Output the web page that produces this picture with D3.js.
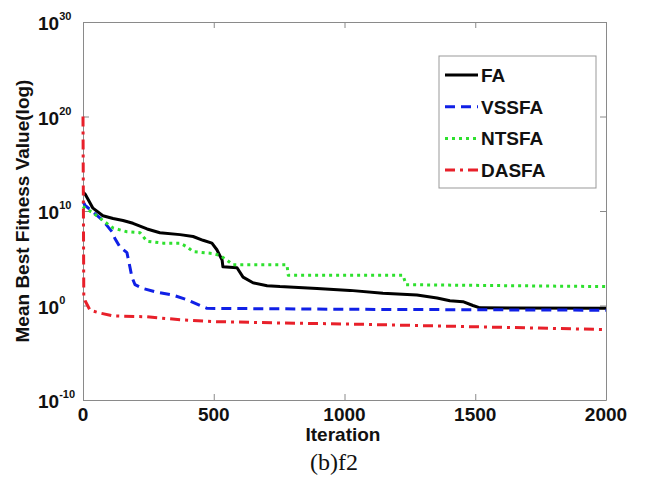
<!DOCTYPE html>
<html>
<head>
<meta charset="utf-8">
<script src="https://cdn.jsdelivr.net/npm/d3@7"></script>
<style>
  body { margin: 0; background: #fff; }
  text { font-family: Arial, "Liberation Sans", sans-serif; font-weight: bold; fill: #111; }
</style>
</head>
<body>
<svg id="chart" width="646" height="481"></svg>
<script>
// [iteration, log10(mean best fitness)]
var faData    = [[0,12.0],[8,11.8],[38,10.3],[76,9.5],[115,9.2],[153,9.0],[191,8.7],[245,8.1],
                 [294,7.7],[371,7.5],[421,7.3],[459,6.9],[493,6.6],[512,5.9],[532,4.8],[535,4.1],
                 [589,4.0],[612,3.0],[650,2.4],[704,2.1],[753,2.0],[895,1.8],[1021,1.6],[1147,1.3],
                 [1277,1.1],[1354,0.8],[1403,0.5],[1453,0.4],[1491,0.0],[1518,-0.25],[2000,-0.3]];
var vssfaData = [[0,11.0],[8,10.6],[38,9.9],[76,9.0],[111,7.8],[122,7.1],[141,6.2],[168,5.6],
                 [180,4.0],[187,3.0],[199,2.2],[229,1.8],[283,1.4],[344,1.1],[398,0.6],[447,0.0],
                 [474,-0.3],[1000,-0.4],[2000,-0.5]];
var ntsfaData = [[0,10.5],[8,10.3],[38,9.8],[76,9.0],[115,8.2],[168,7.8],[218,7.7],[245,6.8],
                 [306,6.6],[371,6.6],[398,6.2],[421,5.7],[497,5.5],[524,5.3],[550,4.8],[574,4.3],
                 [780,4.3],[785,3.2],[1224,3.2],[1235,2.2],[2000,2.0]];
var dasfaData = [[0,20],[3,1.0],[8,0.5],[27,-0.5],[65,-0.8],[115,-1.1],[245,-1.2],[371,-1.5],
                 [497,-1.7],[753,-1.85],[1000,-1.95],[1500,-2.25],[2000,-2.55]];

var seriesNames = ["FA", "VSSFA", "NTSFA", "DASFA"];
var xTicks = [0, 500, 1000, 1500, 2000];
var yTickExps = [30, 20, 10, 0, -10];

window.addEventListener( "load", makeChart );
function makeChart() {
    var svg = d3.select( "#chart" );
    var L = 83, R = 606, T = 22, B = 400;

    var scX = d3.scaleLinear().domain([0, 2000]).range([L, R]),
        scY = d3.scaleLog().domain([1e-10, 1e30]).range([B, T]);

    var series = [
        { name: seriesNames[0], data: faData,    color: "#000",    dash: null },
        { name: seriesNames[1], data: vssfaData, color: "#1020e6", dash: "10,6" },
        { name: seriesNames[2], data: ntsfaData, color: "#2ee02e", dash: "3,4" },
        { name: seriesNames[3], data: dasfaData, color: "#e8202a", dash: "10,5,3,5" }
    ];

    svg.append( "rect" ).attr( "width", 646 ).attr( "height", 481 ).attr( "fill", "#fff" );

    // axes box, ticks point inward on all four sides
    var ax = svg.append( "g" ).attr( "stroke", "#8a8a8a" ).attr( "fill", "none" );
    ax.append( "g" ).attr( "transform", "translate(0," + B + ")" )
        .call( d3.axisBottom(scX).tickValues(xTicks).tickSizeInner(-6).tickSizeOuter(0).tickFormat("") );
    ax.append( "g" ).attr( "transform", "translate(0," + T + ")" )
        .call( d3.axisTop(scX).tickValues(xTicks).tickSizeInner(-6).tickSizeOuter(0).tickFormat("") );
    ax.append( "g" ).attr( "transform", "translate(" + L + ",0)" )
        .call( d3.axisLeft(scY).tickValues(yTickExps.map(e=>Math.pow(10, e))).tickSizeInner(-6).tickSizeOuter(0).tickFormat("") );
    ax.append( "g" ).attr( "transform", "translate(" + R + ",0)" )
        .call( d3.axisRight(scY).tickValues(yTickExps.map(e=>Math.pow(10, e))).tickSizeInner(-6).tickSizeOuter(0).tickFormat("") );
    ax.selectAll( "path, line" ).attr( "stroke", "#8a8a8a" );

    // curves
    var line = d3.line().x( d=>scX(d[0]) ).y( d=>scY(Math.pow(10, d[1])) );
    svg.selectAll( "path.curve" ).data( series ).enter().append( "path" )
        .attr( "class", "curve" )
        .attr( "d", d=>line(d.data) )
        .attr( "fill", "none" ).attr( "stroke", d=>d.color )
        .attr( "stroke-width", 3 ).attr( "stroke-dasharray", d=>d.dash )
        .attr( "stroke-linejoin", "round" );

    // tick labels
    svg.selectAll( "text.xt" ).data( xTicks ).enter().append( "text" )
        .attr( "class", "xt" ).attr( "x", d=>scX(d) ).attr( "y", 421 )
        .attr( "text-anchor", "middle" ).attr( "font-size", 19 ).text( d=>d );

    var yt = svg.selectAll( "text.yt" ).data( yTickExps ).enter().append( "text" )
        .attr( "class", "yt" ).attr( "x", 38 ).attr( "y", d=>scY(Math.pow(10, d)) + 8 )
        .attr( "font-size", 19 );
    yt.append( "tspan" ).text( "10" );
    yt.append( "tspan" ).attr( "dy", -10 ).attr( "font-size", 11 ).text( d=>d );

    // axis titles
    svg.append( "text" ).attr( "x", 343 ).attr( "y", 441 ).attr( "text-anchor", "middle" )
        .attr( "font-size", 19 ).text( "Iteration" );
    svg.append( "text" ).attr( "transform", "translate(29," + (T + B) / 2 + ") rotate(-90)" )
        .attr( "text-anchor", "middle" ).attr( "font-size", 19 ).text( "Mean Best Fitness Value(log)" );
    svg.append( "text" ).attr( "x", 334 ).attr( "y", 470 ).attr( "text-anchor", "middle" )
        .attr( "font-size", 24 ).style( "font-family", "'Liberation Serif', 'Times New Roman', serif" )
        .style( "font-weight", "normal" ).text( "(b)f2" );

    // legend
    var lg = svg.append( "g" );
    lg.append( "rect" ).attr( "x", 439 ).attr( "y", 56 ).attr( "width", 157 ).attr( "height", 132 )
        .attr( "fill", "#fff" ).attr( "stroke", "#999" );
    var items = lg.selectAll( "g.item" ).data( series ).enter().append( "g" )
        .attr( "class", "item" ).attr( "transform", (d, i)=>"translate(0," + (75 + i * 31.7) + ")" );
    items.append( "line" ).attr( "x1", 445 ).attr( "x2", 478 )
        .attr( "stroke", d=>d.color ).attr( "stroke-width", 3 ).attr( "stroke-dasharray", d=>d.dash );
    items.append( "text" ).attr( "x", 481 ).attr( "y", 7 ).attr( "font-size", 19 ).text( d=>d.name );
}
</script>
</body>
</html>
